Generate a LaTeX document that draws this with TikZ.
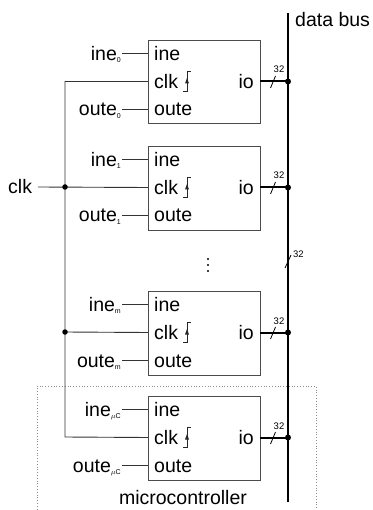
\documentclass[tikz,border=0pt]{standalone}
\usepackage{fontspec}
\setmainfont{Liberation Sans}
\usetikzlibrary{arrows.meta}
\begin{document}
\begin{tikzpicture}[x=1pt,y=-1pt,
  txt/.style={inner sep=0pt,font=\fontsize{19.5}{21}\selectfont},
  small/.style={inner sep=0pt,font=\fontsize{9.5}{10}\selectfont},
  blockbox/.style={draw=black!70,line width=0.9pt,minimum width=112pt,minimum height=83.5pt,inner sep=0pt},
  wire/.style={draw=black!80,line width=0.9pt},
  bus/.style={draw=black,line width=2.2pt},
  iowire/.style={draw=black,line width=2pt},
  slashline/.style={draw=black,line width=0.8pt},
  junction/.style={circle,fill=black,inner sep=0pt,minimum size=6pt},
  edgesym/.style={draw=black!85,line width=0.7pt},
  frame/.style={draw=black!45,dotted,line width=0.8pt}
]
\useasboundingbox (0,0) rectangle (372,510);
\newcommand{\sbs}[1]{\raisebox{-2.2pt}{\fontsize{7}{7}\selectfont #1}}

% dotted microcontroller frame
\draw[frame] (37,515) -- (37,386) -- (316,386) -- (316,515);
\node[txt,anchor=base] (mclabel) at (183,504) {microcontroller};

% bus
\coordinate (bustop) at (288,13);
\coordinate (busbot) at (288,502);
\draw[bus] (bustop) -- (busbot);
\node[txt,anchor=base west] (dbus) at (295,27) {data bus};
% bus width marker
\coordinate (bsA) at (285,268);
\coordinate (bsB) at (291,255);
\draw[slashline] (bsA) -- (bsB);
\node[small,anchor=base west] (b32) at (293,257) {32};

% dots
\foreach \yy in {259,265,271} \fill (208,\yy) circle (1.1pt);

% blocks
\foreach \nm/\top/\sub in {b0/40/\sbs{0},b1/146/\sbs{1},bm/291/\sbs{m},bu/396/\sbs{$\mu$C}}{
  \node[blockbox,anchor=north west] (\nm) at (148,\top) {};
  \coordinate (\nm-ine) at (148,\top+13.5);
  \coordinate (\nm-clk) at (148,\top+41.5);
  \coordinate (\nm-oute) at (148,\top+69);
  \coordinate (\nm-io) at (260,\top+41.5);
  \coordinate (\nm-bus) at (288,\top+41.5);
  \node[txt,anchor=base west] (\nm-tine) at (154,\top+20.5) {ine};
  \node[txt,anchor=base west] (\nm-tclk) at (154,\top+48.5) {clk};
  \node[txt,anchor=base west] (\nm-toute) at (154,\top+76) {oute};
  \node[txt,anchor=base east] (\nm-tio) at (254,\top+48.5) {io};
  \node[txt,anchor=base east] (\nm-lin) at (121,\top+20.5) {ine\sub};
  \node[txt,anchor=base east] (\nm-lout) at (121,\top+76) {oute\sub};
  \coordinate (\nm-lin-e) at (122,\top+13.5);
  \coordinate (\nm-lout-e) at (122,\top+69);
  \draw[wire] (\nm-lin-e) -- (\nm-ine);
  \draw[wire] (\nm-lout-e) -- (\nm-oute);
  % clock edge symbol
  \draw[edgesym] (183,\top+51) -- (187,\top+51) -- (187,\top+31.5) -- (191,\top+31.5);
  \fill[black!85] (187,\top+38) -- (185,\top+43.5) -- (189,\top+43.5) -- cycle;
  % io connection
  \draw[iowire] (\nm-io) -- (\nm-bus);
  \node[junction] (\nm-j) at (\nm-bus) {};
  \draw[slashline] (270.5,\top+48) -- (275.5,\top+36);
  \node[small,anchor=base] (\nm-32) at (279,\top+33) {32};
}

% clock distribution
\node[txt,anchor=base west] (clkin) at (8,194) {clk};
\coordinate (clkin-e) at (38,187);
\coordinate (cA) at (65,187);
\coordinate (cB) at (65,332);
\draw[wire] (clkin-e) -- (b1-clk);
\draw[wire] (b0-clk) -| (65,437) -- (bu-clk);
\draw[wire] (cB) -- (bm-clk);
\node[junction,minimum size=5.5pt] (jA) at (cA) {};
\node[junction,minimum size=5.5pt] (jB) at (cB) {};
\end{tikzpicture}
\end{document}
